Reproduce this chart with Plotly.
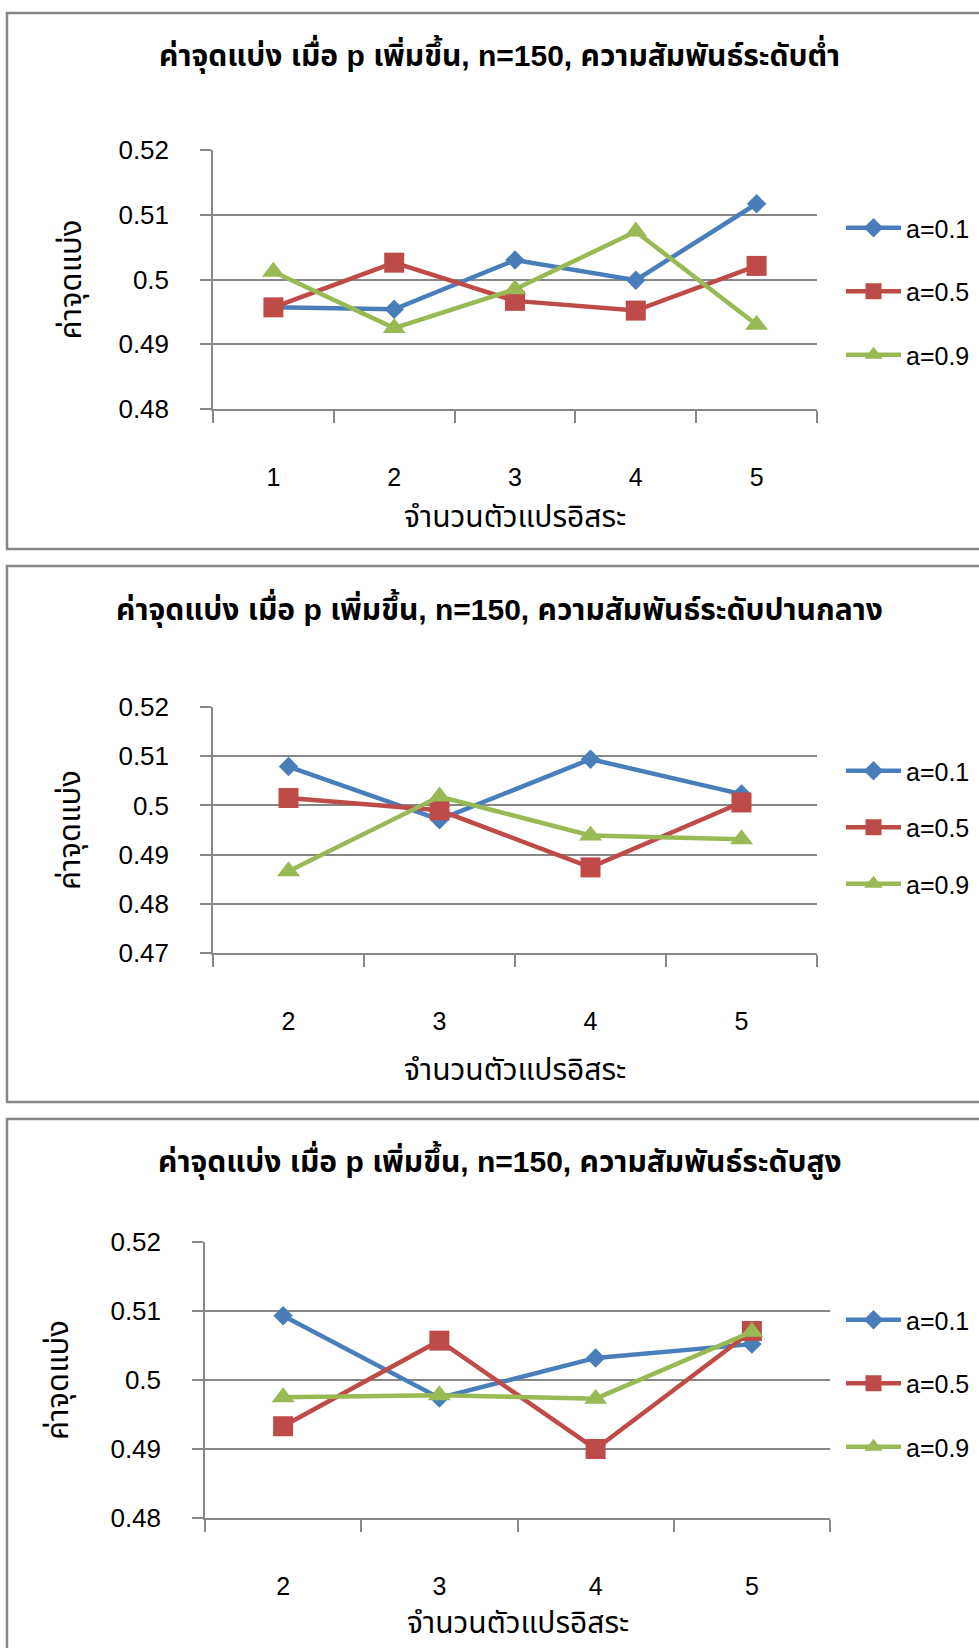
import plotly.graph_objects as go

# ---- data -------------------------------------------------------------
series_names = ["a=0.1", "a=0.5", "a=0.9"]

low_x = ["1", "2", "3", "4", "5"]
low_a01 = [0.4957, 0.4954, 0.5030, 0.4999, 0.5117]
low_a05 = [0.4957, 0.5026, 0.4967, 0.4952, 0.5021]
low_a09 = [0.5012, 0.4925, 0.4985, 0.5074, 0.4930]

mid_x = ["2", "3", "4", "5"]
mid_a01 = [0.5079, 0.4971, 0.5094, 0.5023]
mid_a05 = [0.5015, 0.4990, 0.4874, 0.5006]
mid_a09 = [0.4866, 0.5018, 0.4939, 0.4931]

high_x = ["2", "3", "4", "5"]
high_a01 = [0.5093, 0.4974, 0.5032, 0.5052]
high_a05 = [0.4933, 0.5057, 0.4900, 0.5071]
high_a09 = [0.4975, 0.4978, 0.4973, 0.5070]

titles = [
    "ค่าจุดแบ่ง เมื่อ p เพิ่มขึ้น, n=150, ความสัมพันธ์ระดับต่ำ",
    "ค่าจุดแบ่ง เมื่อ p เพิ่มขึ้น, n=150, ความสัมพันธ์ระดับปานกลาง",
    "ค่าจุดแบ่ง เมื่อ p เพิ่มขึ้น, n=150, ความสัมพันธ์ระดับสูง",
]
x_title = "จำนวนตัวแปรอิสระ"
y_title = "ค่าจุดแบ่ง"
y_ranges = [(0.48, 0.52), (0.47, 0.52), (0.48, 0.52)]

# ---- styling ----------------------------------------------------------
W, H = 979, 1648
FONT = "'Liberation Sans', Arial, Tahoma, 'Noto Sans Thai', sans-serif"
GRAY = "#878787"
colors = ["#4A7EBB", "#BE4B48", "#98B954"]
symbols = ["diamond", "square", "triangle-up"]
msizes = [15, 20, 20]


def px_x(v):
    return v / W


def px_y(v):
    return 1 - v / H


# pixel layout of each panel
panels = [
    dict(x=low_x, ys=[low_a01, low_a05, low_a09],
         box=(7, 13, 1000, 549), plot=(213, 150, 817, 409),
         title_y=54, xt_y=516, yt_x=70, leg_y=205, gap=28),
    dict(x=mid_x, ys=[mid_a01, mid_a05, mid_a09],
         box=(7, 566, 1000, 1102), plot=(213, 707, 817, 953),
         title_y=608, xt_y=1069, yt_x=70, leg_y=748, gap=21),
    dict(x=high_x, ys=[high_a01, high_a05, high_a09],
         box=(7, 1119, 1000, 1700), plot=(205, 1242, 830, 1518),
         title_y=1160, xt_y=1622, yt_x=58, leg_y=1297, gap=28),
]

fig = go.Figure()
shapes = []
annotations = []
layout_axes = {}

for i, p in enumerate(panels):
    n = "" if i == 0 else str(i + 1)
    legend_name = "legend" if i == 0 else f"legend{i + 1}"
    x0, y0, x1, y1 = p["plot"]
    for k in range(3):
        fig.add_trace(go.Scatter(
            x=p["x"], y=p["ys"][k], name=series_names[k],
            mode="lines+markers",
            line=dict(color=colors[k], width=4.5),
            marker=dict(symbol=symbols[k], size=msizes[k], color=colors[k]),
            xaxis="x" + n, yaxis="y" + n,
            legend=legend_name, legendgroup=f"g{i}{k}",
        ))

    layout_axes["xaxis" + n] = dict(
        domain=[px_x(x0), px_x(x1)], anchor="y" + n, type="category",
        range=[-0.5, len(p["x"]) - 0.5], automargin=False,
        tickson="boundaries", ticks="outside", ticklen=12, tickwidth=1.5,
        tickcolor=GRAY, showline=True, linecolor=GRAY, linewidth=1.5,
        showgrid=False, zeroline=False, ticklabelstandoff=45,
        tickfont=dict(family=FONT, size=25, color="#000000"),
    )
    layout_axes["yaxis" + n] = dict(
        domain=[px_y(y1), px_y(y0)], anchor="x" + n, automargin=False,
        range=list(y_ranges[i]), dtick=0.01, tick0=0.47,
        ticks="outside", ticklen=11, tickwidth=1.5, tickcolor=GRAY,
        showline=True, linecolor=GRAY, linewidth=1.5,
        showgrid=True, gridcolor=GRAY, gridwidth=2, zeroline=False,
        ticklabelstandoff=26,
        tickfont=dict(family=FONT, size=26, color="#000000"),
    )
    layout_axes[legend_name] = dict(
        x=px_x(841), y=px_y(p["leg_y"]), xanchor="left", yanchor="top",
        bgcolor="rgba(0,0,0,0)", tracegroupgap=p["gap"],
        font=dict(family=FONT, size=25, color="#000000"),
        itemwidth=55,
    )

    bx0, by0, bx1, by1 = p["box"]
    shapes.append(dict(type="rect", xref="paper", yref="paper",
                       x0=px_x(bx0), x1=px_x(bx1), y0=px_y(by1), y1=px_y(by0),
                       line=dict(color=GRAY, width=2.5)))

    annotations.append(dict(
        text=f"<b>{titles[i]}</b>", xref="paper", yref="paper",
        x=px_x(500), y=px_y(p["title_y"]), xanchor="center", yanchor="middle",
        showarrow=False, font=dict(family=FONT, size=30, color="#000000")))
    annotations.append(dict(
        text=x_title, xref="paper", yref="paper",
        x=px_x((x0 + x1) / 2), y=px_y(p["xt_y"]), xanchor="center",
        yanchor="middle", showarrow=False,
        font=dict(family=FONT, size=30, color="#000000")))
    annotations.append(dict(
        text=y_title, xref="paper", yref="paper", textangle=-90,
        x=px_x(p["yt_x"]), y=px_y((y0 + y1) / 2), xanchor="center",
        yanchor="middle", showarrow=False,
        font=dict(family=FONT, size=31, color="#000000")))

fig.update_layout(
    width=W, height=H, margin=dict(l=0, r=0, t=0, b=0, autoexpand=False),
    paper_bgcolor="white", plot_bgcolor="white",
    showlegend=True, shapes=shapes, annotations=annotations,
    font=dict(family=FONT, color="#000000"),
    **layout_axes,
)

fig.write_html("out.html")
